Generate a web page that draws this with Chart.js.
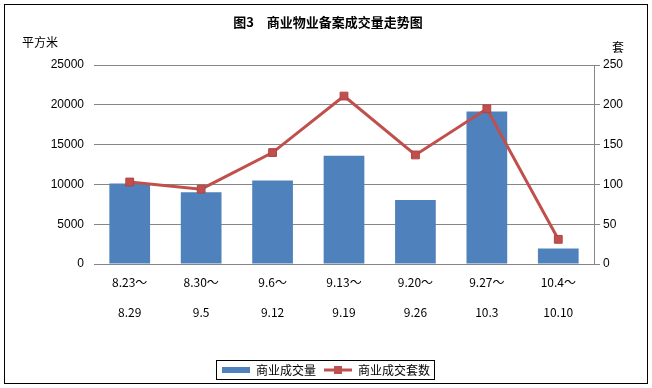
<!DOCTYPE html>
<html>
<head>
<meta charset="utf-8">
<script src="https://cdn.jsdelivr.net/npm/chart.js@4/dist/chart.umd.min.js"></script>
<style>
  html, body { margin: 0; padding: 0; background: #fff; }
  #wrap { position: relative; width: 652px; height: 388px; }
</style>
</head>
<body>
<div id="wrap"><canvas id="chart" width="652" height="388"></canvas></div>
<script>
// data
const weekLabels = [
  ['8.23～', '', '8.29'], ['8.30～', '', '9.5'], ['9.6～', '', '9.12'], ['9.13～', '', '9.19'],
  ['9.20～', '', '9.26'], ['9.27～', '', '10.3'], ['10.4～', '', '10.10']
];
const areaValues = [10100, 9000, 10500, 13600, 8050, 19150, 1950];   // 平方米
const unitValues = [103, 94, 140, 211, 137, 195, 31];                // 套
const leftTicks = [0, 5000, 10000, 15000, 20000, 25000];
const rightTicks = [0, 50, 100, 150, 200, 250];

const titleText = '图3　商业物业备案成交量走势图';
const leftUnit = '平方米';
const rightUnit = '套';
const areaName = '商业成交量';
const unitName = '商业成交套数';

const BLUE = '#4F81BD';
const RED = '#C0504D';
const GRID = '#868686';
const CJK = '"Noto Sans CJK SC", "Liberation Sans", sans-serif';
const NUM = '"Liberation Sans", Arial, sans-serif';

// legend swatches
function swatch(kind) {
  const c = document.createElement('canvas');
  c.width = 28; c.height = 10;
  const g = c.getContext('2d');
  if (kind === 'bar') {
    g.fillStyle = BLUE;
    g.fillRect(0, 2, 28, 6);
  } else {
    g.strokeStyle = RED;
    g.lineWidth = 3;
    g.beginPath(); g.moveTo(0, 5); g.lineTo(28, 5); g.stroke();
    g.fillStyle = RED;
    g.fillRect(10, 1, 8, 8);
  }
  return c;
}

const frame = {
  id: 'frame',
  beforeDraw(chart) {
    const ctx = chart.ctx;
    ctx.save();
    ctx.fillStyle = '#fff';
    ctx.fillRect(0, 0, chart.width, chart.height);
    ctx.restore();
  },
  afterDraw(chart) {
    const ctx = chart.ctx;
    const area = chart.chartArea;
    ctx.save();
    ctx.strokeStyle = '#000';
    ctx.lineWidth = 1;
    ctx.strokeRect(4.5, 4.5, 643, 379);

    ctx.fillStyle = '#000';
    ctx.font = 'bold 13px ' + CJK;
    ctx.textAlign = 'center';
    ctx.textBaseline = 'middle';
    ctx.fillText(titleText, 328, 22);

    ctx.font = '12px ' + CJK;
    ctx.textAlign = 'left';
    ctx.fillText(leftUnit, 22, 42);
    ctx.fillText(rightUnit, area.right + 18, 47);

    // box round the legend
    const boxes = chart.legend.legendHitBoxes;
    if (boxes && boxes.length) {
      let l = Infinity, r = -Infinity, t = Infinity, b = -Infinity;
      boxes.forEach(h => {
        l = Math.min(l, h.left); r = Math.max(r, h.left + h.width);
        t = Math.min(t, h.top); b = Math.max(b, h.top + h.height);
      });
      ctx.strokeRect(Math.round(l) - 5.5, Math.round(t) - 3.5, Math.round(r - l) + 10, Math.round(b - t) + 7);
    }
    ctx.restore();
  }
};

new Chart(document.getElementById('chart'), {
  data: {
    labels: weekLabels,
    datasets: [
      {
        type: 'bar',
        label: areaName,
        data: areaValues,
        backgroundColor: BLUE,
        yAxisID: 'y',
        order: 2,
        categoryPercentage: 1,
        barPercentage: 0.57,
      },
      {
        type: 'line',
        label: unitName,
        data: unitValues,
        borderColor: RED,
        backgroundColor: RED,
        borderWidth: 3,
        pointStyle: 'rect',
        pointRadius: 5.5,
        pointBorderColor: '#B04340',
        pointBorderWidth: 1,
        yAxisID: 'y1',
        order: 1,
        tension: 0,
      },
    ],
  },
  options: {
    responsive: false,
    animation: false,
    layout: { padding: { top: 65, left: 0, right: 0, bottom: 2 } },
    plugins: {
      title: { display: false },
      tooltip: { enabled: false },
      legend: {
        position: 'bottom',
        labels: {
          usePointStyle: true,
          pointStyleWidth: 28,
          boxHeight: 12,
          padding: 8,
          color: '#000',
          font: { family: CJK, size: 12 },
          generateLabels: () => [
            { text: areaName, pointStyle: swatch('bar'), fillStyle: BLUE, strokeStyle: BLUE, lineWidth: 0, datasetIndex: 0 },
            { text: unitName, pointStyle: swatch('line'), fillStyle: RED, strokeStyle: RED, lineWidth: 0, datasetIndex: 1 },
          ],
        },
      },
    },
    scales: {
      x: {
        grid: { display: false },
        border: { display: false },
        ticks: {
          color: '#000',
          padding: 3,
          maxRotation: 0,
          font: { family: CJK, size: 12, lineHeight: 1.25 },
        },
        afterFit(scale) { scale.height = 92; },
      },
      y: {
        position: 'left',
        min: 0, max: 25000,
        afterBuildTicks(scale) { scale.ticks = leftTicks.map(v => ({ value: v })); },
        grid: { color: GRID, lineWidth: 1, drawTicks: false },
        border: { display: false },
        ticks: { color: '#000', padding: 10, font: { family: NUM, size: 12 }, callback: v => String(v) },
        afterFit(scale) { scale.width = 94; },
      },
      y1: {
        position: 'right',
        min: 0, max: 250,
        afterBuildTicks(scale) { scale.ticks = rightTicks.map(v => ({ value: v })); },
        grid: { drawOnChartArea: false, drawTicks: true, tickLength: 6, tickColor: GRID },
        border: { display: true, color: GRID, width: 1 },
        ticks: { color: '#000', padding: 3, font: { family: NUM, size: 12 }, callback: v => String(v) },
        afterFit(scale) { scale.width = 58; },
      },
    },
  },
  plugins: [frame],
});
</script>
</body>
</html>
